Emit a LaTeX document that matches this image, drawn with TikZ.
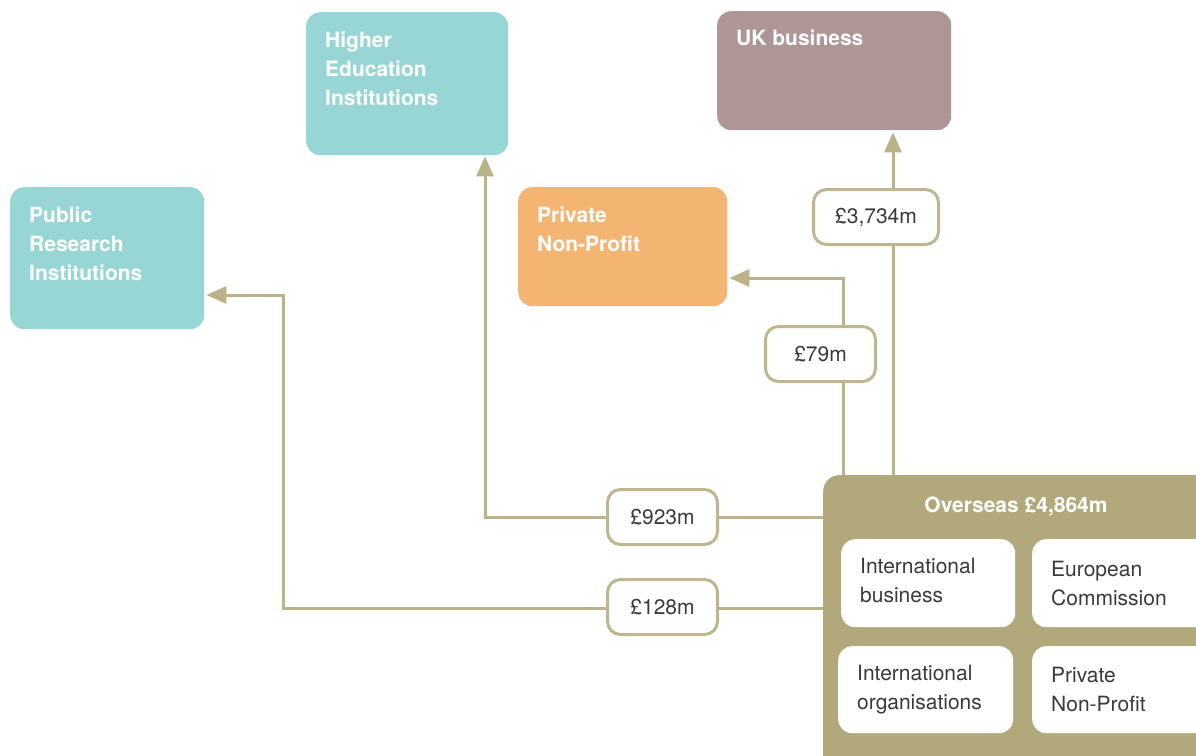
\documentclass[tikz,border=0pt]{standalone}
\usepackage{fontspec}
\setmainfont{TeX Gyre Heros}
\usetikzlibrary{arrows.meta,backgrounds}
\definecolor{cteal}{HTML}{98D6D5}
\definecolor{corange}{HTML}{F4B572}
\definecolor{cmauve}{HTML}{AE9697}
\definecolor{colive}{HTML}{B1A97B}
\definecolor{cline}{HTML}{BAB38A}
\definecolor{cborder}{HTML}{BDB68F}
\definecolor{ctext}{HTML}{3A3A3A}
\begin{document}
\begin{tikzpicture}[x=1pt,y=-1pt,
  box/.style={rounded corners=14pt, anchor=north west, inner sep=0pt, draw=none},
  ttl/.style={font=\bfseries\fontsize{21}{29}\selectfont, text=white, align=left, anchor=base west, inner sep=0pt},
  itxt/.style={font=\fontsize{21}{29}\selectfont, text=ctext, align=left, anchor=base west, inner sep=0pt},
  lbl/.style={draw=cborder, line width=3pt, rounded corners=13pt, fill=white,
    font=\fontsize{21}{29}\selectfont, text=ctext, inner sep=0pt, minimum height=55pt, anchor=north west},
  conn/.style={draw=cline, line width=3pt},
  arr/.style={conn, -{Triangle[length=20pt,width=17pt]}}]
\useasboundingbox (0,0) rectangle (1196,755);
\clip (0,0) rectangle (1196,755);
% target boxes (text anchors at baseline of the last line)
\node[box, fill=cteal, minimum width=202pt, minimum height=143pt] (hei) at (306,12) {};
\node[ttl] (heit) at (325,105) {Higher\\Education\\Institutions};
\node[box, fill=cmauve, minimum width=234pt, minimum height=119pt] (uk) at (717,11) {};
\node[ttl] (ukt) at (736,45) {UK business};
\node[box, fill=cteal, minimum width=194pt, minimum height=142pt] (pri) at (10,187) {};
\node[ttl] (prit) at (29,280) {Public\\Research\\Institutions};
\node[box, fill=corange, minimum width=209pt, minimum height=119pt] (pnp) at (518,187) {};
\node[ttl] (pnpt) at (537,251) {Private\\Non-Profit};
% overseas
\node[box, rounded corners=16pt, fill=colive, minimum width=420pt, minimum height=320pt] (ovs) at (823,475) {};
\node[ttl, anchor=base] (ovst) at (1016,512) {Overseas £4,864m};
\node[box, fill=white, minimum width=174pt, minimum height=88pt] (ib) at (841,539) {};
\node[itxt] (ibt) at (860,602) {International\\business};
\node[box, fill=white, minimum width=200pt, minimum height=88pt] (ec) at (1032,539) {};
\node[itxt] (ect) at (1051,605) {European\\Commission};
\node[box, fill=white, minimum width=175pt, minimum height=87pt] (io) at (838,646) {};
\node[itxt] (iot) at (857,709) {International\\organisations};
\node[box, fill=white, minimum width=200pt, minimum height=87pt] (pn2) at (1032,646) {};
\node[itxt] (pn2t) at (1051,711) {Private\\Non-Profit};
% labels
\node[lbl, minimum width=125pt] (l3734) at (812,188) {£3,734m};
\node[lbl, minimum width=110pt] (l79) at (764,325) {£79m};
\node[lbl, minimum width=110pt] (l923) at (606,488) {£923m};
\node[lbl, minimum width=110pt] (l128) at (606,578) {£128m};
% connector routing points
\coordinate (ukx) at (893,0);
\coordinate (pnpc) at (843,278);
\coordinate (heic) at (485,517);
\coordinate (pric) at (283,608);
\coordinate (pric2) at (283,295);
\begin{scope}[on background layer]
\draw[arr] (ovs.north -| ukx) -- ([yshift=-2pt]uk.south -| ukx);
\draw[arr] (ovs.north -| pnpc) -- (pnpc) -- ([xshift=2pt]pnp.east |- pnpc);
\draw[arr] (ovs.west |- heic) -- (heic) -- ([yshift=-1pt]hei.south -| heic);
\draw[arr] (ovs.west |- pric) -- (pric) -- (pric2) -- ([xshift=2pt]pri.east |- pric2);
\end{scope}
\end{tikzpicture}
\end{document}
